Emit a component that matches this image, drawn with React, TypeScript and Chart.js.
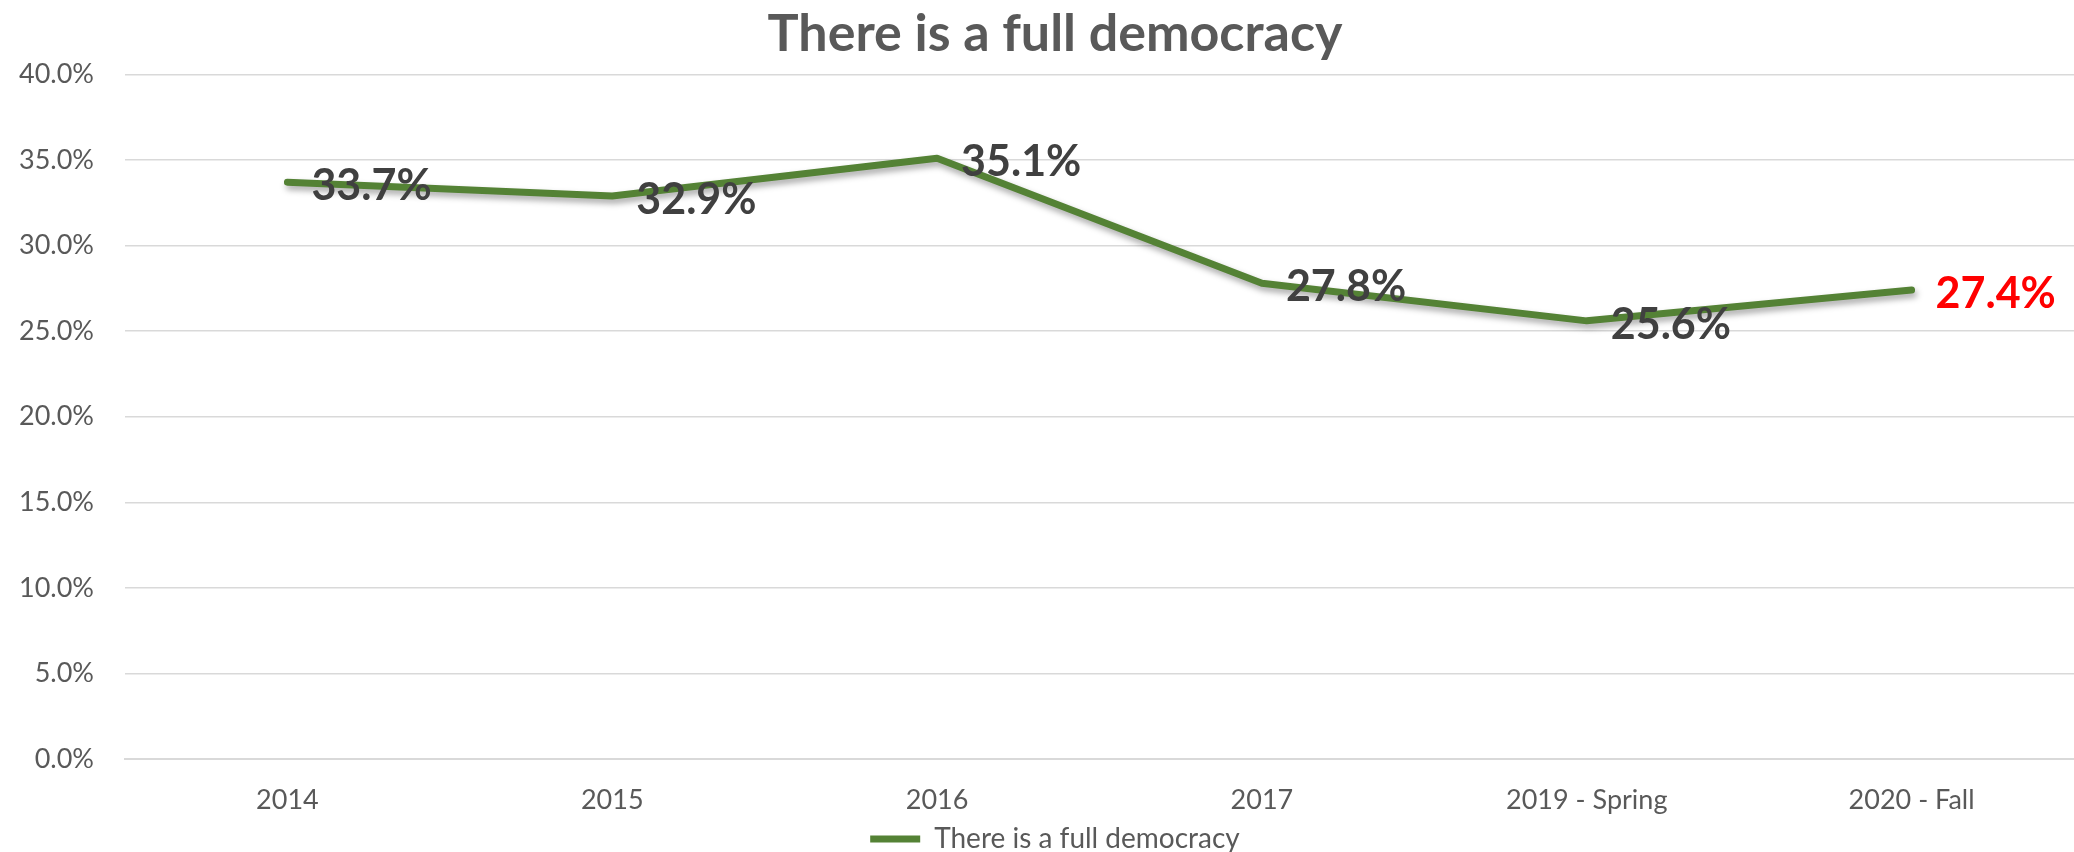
import React, { useEffect, useRef } from "react";
import { Chart, registerables } from "chart.js";

Chart.register(...registerables);

const categories = ["2014", "2015", "2016", "2017", "2019 - Spring", "2020 - Fall"];
const values = [33.7, 32.9, 35.1, 27.8, 25.6, 27.4];
const labelColors = ["#404040", "#404040", "#404040", "#404040", "#404040", "#FF0000"];
const seriesName = "There is a full democracy";
const chartTitle = "There is a full democracy";
const yMin = 0;
const yMax = 40;
const yStep = 5;

const FONT = "Lato, 'Open Sans', sans-serif";

const lineDecor = {
  id: "lineDecor",
  afterLayout(chart: any) {
    // let the y-axis labels extend to the canvas' left edge without clipping
    const y = chart.scales.y;
    if (y) y.left = 0;
  },
  beforeDatasetsDraw(chart: any) {
    const ctx = chart.ctx;
    ctx.save();
    ctx.shadowColor = "rgba(0,0,0,0.35)";
    ctx.shadowBlur = 6;
    ctx.shadowOffsetX = 2;
    ctx.shadowOffsetY = 4;
  },
  afterDatasetsDraw(chart: any) {
    const ctx = chart.ctx;
    ctx.restore();
    const meta = chart.getDatasetMeta(0);
    ctx.save();
    ctx.font = `bold 43px ${FONT}`;
    ctx.textAlign = "left";
    ctx.textBaseline = "middle";
    meta.data.forEach((pt: any, i: number) => {
      ctx.fillStyle = labelColors[i];
      ctx.fillText(values[i].toFixed(1) + "%", pt.x + 24, pt.y + 4);
    });
    ctx.restore();
  },
};

export default function App() {
  const ref = useRef<HTMLCanvasElement | null>(null);
  useEffect(() => {
    if (!ref.current) return;
    const chart = new Chart(ref.current, {
      type: "line",
      data: {
        labels: categories,
        datasets: [
          {
            label: seriesName,
            data: values,
            borderColor: "#548235",
            backgroundColor: "#548235",
            borderWidth: 7,
            borderCapStyle: "round",
            borderJoinStyle: "round",
            pointRadius: 0,
            pointHoverRadius: 0,
            tension: 0,
            fill: false,
          },
        ],
      },
      options: {
        animation: false,
        responsive: true,
        maintainAspectRatio: false,
        layout: { padding: { left: 36, right: 0, top: 0, bottom: -11 } },
        plugins: {
          title: {
            display: true,
            text: chartTitle,
            color: "#595959",
            font: { family: FONT, size: 52, weight: "bold", lineHeight: 1.2 },
            padding: { top: 3, bottom: 9 },
          },
          legend: {
            display: true,
            position: "bottom",
            labels: {
              usePointStyle: true,
              pointStyle: "line",
              pointStyleWidth: 50,
              color: "#595959",
              padding: 0,
              font: { family: FONT, size: 28 },
            },
          },
          tooltip: { enabled: false },
        },
        scales: {
          x: {
            offset: true,
            grid: { display: false, drawTicks: false },
            border: { display: true, color: "#d9d9d9", width: 2 },
            afterFit(scale: any) {
              scale.height = 66;
            },
            ticks: {
              color: "#595959",
              font: { family: FONT, size: 27 },
              padding: 25,
              maxRotation: 0,
              autoSkip: false,
            },
          },
          y: {
            min: yMin,
            max: yMax,
            grid: { color: "#d9d9d9", lineWidth: 1.5, drawTicks: false },
            border: { display: false },
            afterFit(scale: any) {
              scale.width = 89;
            },
            ticks: {
              stepSize: yStep,
              color: "#595959",
              font: { family: FONT, size: 27 },
              padding: 31,
              callback: (v: any) => Number(v).toFixed(1) + "%",
            },
          },
        },
      },
      plugins: [lineDecor],
    });
    return () => chart.destroy();
  }, []);
  return (
    <div style={{ position: "absolute", left: 0, top: 0, width: "2074px", height: "852px", background: "#fff" }}>
      <canvas ref={ref} />
    </div>
  );
}
